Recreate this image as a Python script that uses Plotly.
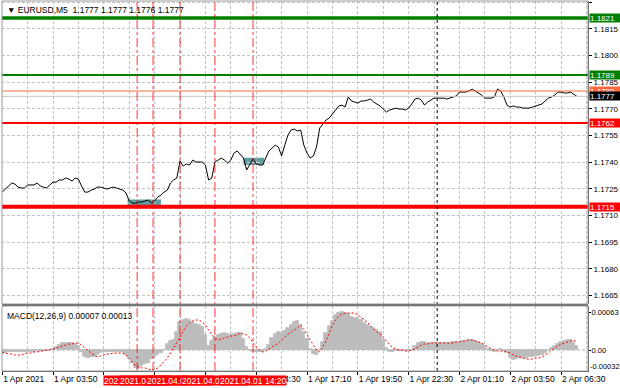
import plotly.graph_objects as go
import pandas as pd

# ---------------- data ----------------
symbol_title = "\u25BC EURUSD,M5\u00a0\u00a01.1777 1.1777 1.1776 1.1777"
macd_title = "MACD(12,26,9) 0.00007 0.00013"

start_time = "2021-04-01 01:10"
step_minutes = 10

price = [1.17232, 1.17249, 1.17266, 1.17283, 1.17277, 1.17260, 1.17255, 1.17255, 1.17272, 1.17272,
         1.17272, 1.17283, 1.17266, 1.17260, 1.17255, 1.17272, 1.17288, 1.17288, 1.17300, 1.17300,
         1.17311, 1.17305, 1.17294, 1.17311, 1.17305, 1.17266, 1.17232, 1.17232, 1.17243, 1.17249,
         1.17260, 1.17260, 1.17255, 1.17249, 1.17255, 1.17260, 1.17255, 1.17249, 1.17243, 1.17227,
         1.17182, 1.17170, 1.17170, 1.17176, 1.17176, 1.17182, 1.17187, 1.17170, 1.17182, 1.17204,
         1.17215, 1.17232, 1.17243, 1.17283, 1.17300, 1.17311, 1.17406, 1.17378, 1.17390, 1.17384,
         1.17412, 1.17401, 1.17401, 1.17401, 1.17384, 1.17300, 1.17311, 1.17401, 1.17412, 1.17423,
         1.17412, 1.17395, 1.17412, 1.17451, 1.17463, 1.17440, 1.17423, 1.17356, 1.17384, 1.17418,
         1.17390, 1.17384, 1.17384, 1.17423, 1.17463, 1.17479, 1.17496, 1.17485, 1.17435, 1.17496,
         1.17553, 1.17581, 1.17586, 1.17575, 1.17581, 1.17496, 1.17451, 1.17423, 1.17435, 1.17485,
         1.17592, 1.17614, 1.17637, 1.17648, 1.17671, 1.17693, 1.17716, 1.17721, 1.17710, 1.17766,
         1.17744, 1.17738, 1.17732, 1.17744, 1.17744, 1.17749, 1.17755, 1.17738, 1.17727, 1.17716,
         1.17699, 1.17682, 1.17693, 1.17699, 1.17704, 1.17699, 1.17699, 1.17693, 1.17704, 1.17727,
         1.17755, 1.17760, 1.17749, 1.17721, 1.17738, 1.17749, 1.17760, 1.17760, 1.17760, 1.17760,
         1.17755, 1.17760, 1.17766, 1.17772, 1.17794, 1.17794, 1.17794, 1.17800, 1.17811, 1.17800,
         1.17789, 1.17777, 1.17760, 1.17760, 1.17760, 1.17766, 1.17811, 1.17800, 1.17766, 1.17721,
         1.17710, 1.17716, 1.17710, 1.17710, 1.17704, 1.17704, 1.17704, 1.17710, 1.17716, 1.17721,
         1.17727, 1.17744, 1.17760, 1.17766, 1.17777, 1.17794, 1.17794, 1.17789, 1.17789, 1.17794,
         1.17783, 1.17770]

# MACD values in units of 1e-5
macd_main_e5 = [-6.6, -5.0, -3.3, -3.3, -3.3, -3.3, -3.3, -3.3, -3.3, -3.3,
                -3.3, -1.7, -1.7, -1.7, -1.7, 0, 1.7, 5.0, 8.3, 11.6,
                11.6, 11.6, 11.6, 9.9, 6.6, -3.3, -11.6, -13.3, -11.6, -11.6,
                -8.3, -5.0, -3.3, -3.3, -3.3, -3.3, -3.3, -3.3, -3.3, -8.3,
                -14.9, -21.6, -29.8, -31.5, -26.5, -23.2, -21.6, -14.9, -11.6, -8.3,
                -5.0, 0, 9.9, 14.9, 16.6, 29.8, 46.4, 49.7, 51.4, 49.7,
                46.4, 43.1, 41.5, 38.1, 24.9, 6.6, 14.9, 21.6, 24.9, 26.5,
                28.2, 26.5, 24.9, 26.5, 28.2, 28.2, 18.2, 5.0, 0, -3.3,
                -3.3, -3.3, -3.3, 1.7, 8.3, 19.9, 26.5, 29.8, 28.2, 31.5,
                36.5, 41.5, 46.4, 48.1, 41.5, 29.8, 18.2, 1.7, -6.6, -8.3,
                0, 13.3, 28.2, 39.8, 48.1, 58.0, 61.5, 63.0, 62.0, 59.7,
                54.7, 53.1, 53.1, 49.7, 44.8, 41.5, 38.1, 36.5, 33.2, 29.8,
                16.6, 3.3, -3.3, -3.3, -1.7, -1.7, -1.7, -1.7, -1.7, 0,
                6.6, 11.6, 13.3, 13.3, 11.6, 11.6, 11.6, 11.6, 11.6, 11.6,
                11.6, 11.6, 13.3, 13.3, 13.3, 14.9, 14.9, 16.6, 16.6, 14.9,
                13.3, 9.9, 6.6, 1.7, -1.7, -3.3, 0, 1.7, -1.7, -5.0,
                -13.3, -16.6, -14.9, -13.3, -13.3, -13.3, -11.6, -11.6, -9.9, -9.9,
                -8.3, -5.0, 0, 3.3, 6.6, 9.9, 13.3, 14.9, 16.6, 16.6,
                13.3, 7.0]

macd_signal_e5 = [-3.3, -5.0, -6.6, -6.6, -8.3, -8.3, -8.3, -6.6, -5.0, -5.0,
                  -3.3, -3.3, -1.7, -1.7, 0, 0, 1.7, 3.3, 5.0, 6.6,
                  8.3, 9.9, 9.9, 11.6, 11.6, 8.3, 3.3, -1.7, -5.0, -8.3,
                  -11.6, -9.9, -8.3, -6.6, -6.6, -5.0, -5.0, -5.0, -5.0, -8.3,
                  -13.3, -19.9, -26.5, -28.2, -29.8, -29.8, -31.5, -33.2, -31.5, -29.8,
                  -24.9, -19.9, -13.3, -5.0, 3.3, 11.6, 21.6, 31.5, 39.8, 44.8,
                  48.1, 49.7, 49.7, 46.4, 41.5, 33.2, 26.5, 19.9, 16.6, 18.2,
                  19.9, 21.6, 23.2, 23.2, 24.9, 28.2, 26.5, 24.9, 19.9, 11.6,
                  5.0, 0, -3.3, -1.7, 1.7, 5.0, 8.3, 11.6, 16.6, 21.6,
                  26.5, 29.8, 33.2, 36.5, 41.5, 34.8, 26.5, 16.6, 8.3, 0,
                  -3.3, 5.0, 14.9, 28.2, 41.5, 49.7, 56.4, 59.7, 61.3, 61.3,
                  61.3, 61.3, 58.0, 54.7, 49.7, 46.4, 39.8, 34.8, 29.8, 26.5,
                  21.6, 14.9, 8.3, 3.3, 1.7, 0, 0, -1.7, -1.7, 0,
                  1.7, 5.0, 8.3, 9.9, 9.9, 11.6, 11.6, 11.6, 11.6, 11.6,
                  11.6, 11.6, 11.6, 13.3, 13.3, 14.9, 14.9, 16.6, 16.6, 14.9,
                  13.3, 11.6, 8.3, 5.0, 1.7, 0, -1.7, -1.7, -1.7, -3.3,
                  -5.0, -8.3, -9.9, -11.6, -13.3, -14.9, -14.9, -14.9, -13.3, -13.3,
                  -11.6, -8.3, -5.0, 0, 3.3, 6.6, 9.9, 11.6, 13.3, 14.9,
                  16.6, 13.0]

# horizontal levels
level_prices = [1.1821, 1.1789, 1.1780, 1.1762, 1.1715]
level_colors = ["#008000", "#008000", "#ff6a3d", "#ff0000", "#ff0000"]
level_widths = [3.5, 2, 1, 2, 4]
current_price = 1.1777

# vertical event lines
event_times = ["2021-04-01 08:15", "2021-04-01 09:05", "2021-04-01 10:30",
               "2021-04-01 12:20", "2021-04-01 14:20"]
event_labels = ["2021.04.01 08:15", "2021.04.01 09:05", "2021.04.01 10:30",
                "2021.04.01 12:20", "2021.04.01 14:20"]
day_separator = "2021-04-02 00:00"

# teal rectangles
box_t0 = ["2021-04-01 07:45", "2021-04-01 13:50"]
box_t1 = ["2021-04-01 09:30", "2021-04-01 14:55"]
box_p0 = [1.17143, 1.17385]
box_p1 = [1.17190, 1.17425]

# axes
x_range = ["2021-04-01 01:09:22", "2021-04-02 07:55:00"]
x_tick_times = ["2021-04-01 01:10", "2021-04-01 03:50", "2021-04-01 06:30", "2021-04-01 09:10",
                "2021-04-01 11:50", "2021-04-01 14:30", "2021-04-01 17:10", "2021-04-01 19:50",
                "2021-04-01 22:30", "2021-04-02 01:10", "2021-04-02 03:50", "2021-04-02 06:30"]
x_tick_text = ["1 Apr 2021", "1 Apr 03:50", "1 Apr 06:30", "1 Apr 09:10", "1 Apr 11:50",
               "1 Apr 14:30", "1 Apr 17:10", "1 Apr 19:50", "1 Apr 22:30", "2 Apr 01:10",
               "2 Apr 03:50", "2 Apr 06:30"]
x_grid_times = ["2021-04-01 02:30", "2021-04-01 05:10", "2021-04-01 07:50", "2021-04-01 10:30",
                "2021-04-01 13:10", "2021-04-01 15:50", "2021-04-01 18:30", "2021-04-01 21:10",
                "2021-04-01 23:50", "2021-04-02 02:30", "2021-04-02 05:10", "2021-04-02 07:50"]
price_ticks = [1.1665, 1.1680, 1.1695, 1.1710, 1.1725, 1.1740, 1.1755, 1.1770, 1.1785,
               1.1800, 1.1815, 1.1830]
price_range = [1.16603, 1.18306]
macd_ticks = [0.00063, 0.0]
macd_tick_text = ["0.00063", "0.00"]
macd_min_label = -0.00032
macd_range = [-0.000348, 0.00073]

# ---------------- build ----------------
t_start = pd.Timestamp(start_time)
times = [t_start + pd.Timedelta(minutes=step_minutes * i) for i in range(len(price))]
macd_main = [v * 1e-5 for v in macd_main_e5]
macd_signal = [v * 1e-5 for v in macd_signal_e5]

GRID = "#c4c4c4"
DASH = "3px,2px"
FONT = "Liberation Sans, Arial, sans-serif"
HIST = "#bcbcbc"

fig = go.Figure()
fig.add_trace(go.Scatter(x=times, y=price, mode="lines", line=dict(color="black", width=1),
                         xaxis="x", yaxis="y", hoverinfo="skip"))
fig.add_trace(go.Bar(x=times, y=macd_main, marker=dict(color=HIST, line=dict(width=0.8, color=HIST)),
                     width=step_minutes * 60 * 1000, xaxis="x2", yaxis="y2", hoverinfo="skip"))
fig.add_trace(go.Scatter(x=times, y=macd_signal, mode="lines",
                         line=dict(color="#ff0000", width=1, dash="2px,2px"),
                         xaxis="x2", yaxis="y2", hoverinfo="skip"))

price_dom = [0.1811, 1.0]
macd_dom = [0.0, 0.1757]

common_x = dict(type="date", range=x_range, tickmode="array", tickvals=x_tick_times,
                showgrid=True, gridcolor=GRID, griddash=DASH, gridwidth=1, zeroline=False,
                automargin=False, tickangle=0,
                minor=dict(tickmode="array", tickvals=x_grid_times, showgrid=True,
                           gridcolor=GRID, griddash=DASH, ticks=""))

fig.update_layout(
    width=620, height=388,
    margin=dict(l=2, r=32, t=1, b=17, autoexpand=False),
    paper_bgcolor="white", plot_bgcolor="white",
    showlegend=False, bargap=0,
    font=dict(family=FONT, size=8, color="black"),
    xaxis=dict(domain=[0, 1], anchor="y", showticklabels=False, ticks="", **common_x),
    xaxis2=dict(domain=[0, 1], anchor="y2", matches="x", ticktext=x_tick_text,
                showticklabels=True, ticks="outside", ticklen=3, tickcolor="black",
                ticklabelposition="outside right", tickfont=dict(size=8.5),
                showline=True, linecolor="#555555", linewidth=1, **common_x),
    yaxis=dict(domain=price_dom, anchor="x", range=price_range, side="right",
               tickmode="array", tickvals=price_ticks,
               ticktext=[f"{v:.4f}" for v in price_ticks],
               ticks="outside", ticklen=3, tickcolor="black", tickfont=dict(size=8),
               showgrid=True, gridcolor=GRID, griddash=DASH, zeroline=False, automargin=False,
               showline=True, linecolor="#555555", linewidth=1),
    yaxis2=dict(domain=macd_dom, anchor="x2", range=macd_range, side="right",
                tickmode="array", tickvals=macd_ticks, ticktext=macd_tick_text,
                ticks="outside", ticklen=2, tickcolor="black", tickfont=dict(size=7.5),
                ticklabelstandoff=-1,
                showgrid=False, zeroline=False, automargin=False,
                showline=True, linecolor="#555555", linewidth=1),
)

shapes = []
for a, b, p0, p1 in zip(box_t0, box_t1, box_p0, box_p1):
    shapes.append(dict(type="rect", xref="x", yref="y", x0=a, x1=b, y0=p0, y1=p1,
                       fillcolor="#5f9ea0", line=dict(width=0), layer="below"))
shapes.append(dict(type="line", xref="x2 domain", yref="y2", x0=0, x1=1, y0=0, y1=0,
                   line=dict(color="#b0b0b0", width=1, dash=DASH), layer="below"))
shapes.append(dict(type="line", xref="x domain", yref="y", x0=0, x1=1,
                   y0=current_price, y1=current_price, line=dict(color="#c8c8c8", width=1)))
for p, c, w in zip(level_prices, level_colors, level_widths):
    shapes.append(dict(type="line", xref="x domain", yref="y", x0=0, x1=1, y0=p, y1=p,
                       line=dict(color=c, width=w)))
for t in event_times:
    shapes.append(dict(type="line", xref="x", yref="paper", x0=t, x1=t, y0=0, y1=1,
                       line=dict(color="rgba(255,0,0,0.8)", width=1, dash="dashdot")))
shapes.append(dict(type="line", xref="x", yref="paper", x0=day_separator, x1=day_separator,
                   y0=0, y1=1, line=dict(color="black", width=1, dash="dot")))
shapes.append(dict(type="rect", xref="paper", yref="paper", x0=0, x1=1,
                   y0=price_dom[0], y1=price_dom[1], line=dict(color="#9a9a9a", width=1)))
shapes.append(dict(type="rect", xref="paper", yref="paper", x0=0, x1=1,
                   y0=macd_dom[0], y1=macd_dom[1], line=dict(color="#9a9a9a", width=1)))
shapes.append(dict(type="rect", xref="paper", yref="paper", x0=0, x1=1,
                   y0=macd_dom[1], y1=price_dom[0], fillcolor="#777777", line=dict(width=0)))
fig.update_layout(shapes=shapes)

ann = []
ann.append(dict(xref="paper", yref="paper", x=0, y=1, xanchor="left", yanchor="top",
                xshift=3, yshift=-2, text=symbol_title, showarrow=False,
                font=dict(size=8.5, color="black")))
ann.append(dict(xref="paper", yref="paper", x=0, y=macd_dom[1], xanchor="left", yanchor="top",
                xshift=3, yshift=-3, text=macd_title, showarrow=False,
                font=dict(size=8.5, color="black")))
ann.append(dict(xref="paper", yref="y2", x=1, y=macd_min_label, xanchor="left", yanchor="middle",
                xshift=0, yshift=3, text=f"{macd_min_label:.5f}", showarrow=False,
                font=dict(size=7.5, color="black")))
box_items = list(zip(level_prices, level_colors))
for p, c in box_items[:3]:
    ann.append(dict(xref="paper", yref="y", x=1, y=p, xanchor="left", yanchor="middle",
                    xshift=1, text=f"{p:.4f}", showarrow=False, bgcolor=c, width=30, height=8,
                    align="left", borderpad=0, font=dict(size=8, color="white")))
ann.append(dict(xref="paper", yref="y", x=1, y=current_price, xanchor="left", yanchor="middle",
                xshift=1, text=f"{current_price:.4f}", showarrow=False, bgcolor="black",
                width=30, height=8, align="left", borderpad=0, font=dict(size=8, color="white")))
for p, c in box_items[3:]:
    ann.append(dict(xref="paper", yref="y", x=1, y=p, xanchor="left", yanchor="middle",
                    xshift=1, text=f"{p:.4f}", showarrow=False, bgcolor=c, width=30, height=8,
                    align="left", borderpad=0, font=dict(size=8, color="white")))
for t, lab in zip(event_times, event_labels):
    ann.append(dict(xref="x2", yref="paper", x=t, y=0, xanchor="center", yanchor="top",
                    yshift=-4, text=lab, showarrow=False, bgcolor="#ff0000", borderpad=0,
                    height=9, font=dict(size=8.5, color="white")))
fig.update_layout(annotations=ann)

fig.write_html("out.html")
